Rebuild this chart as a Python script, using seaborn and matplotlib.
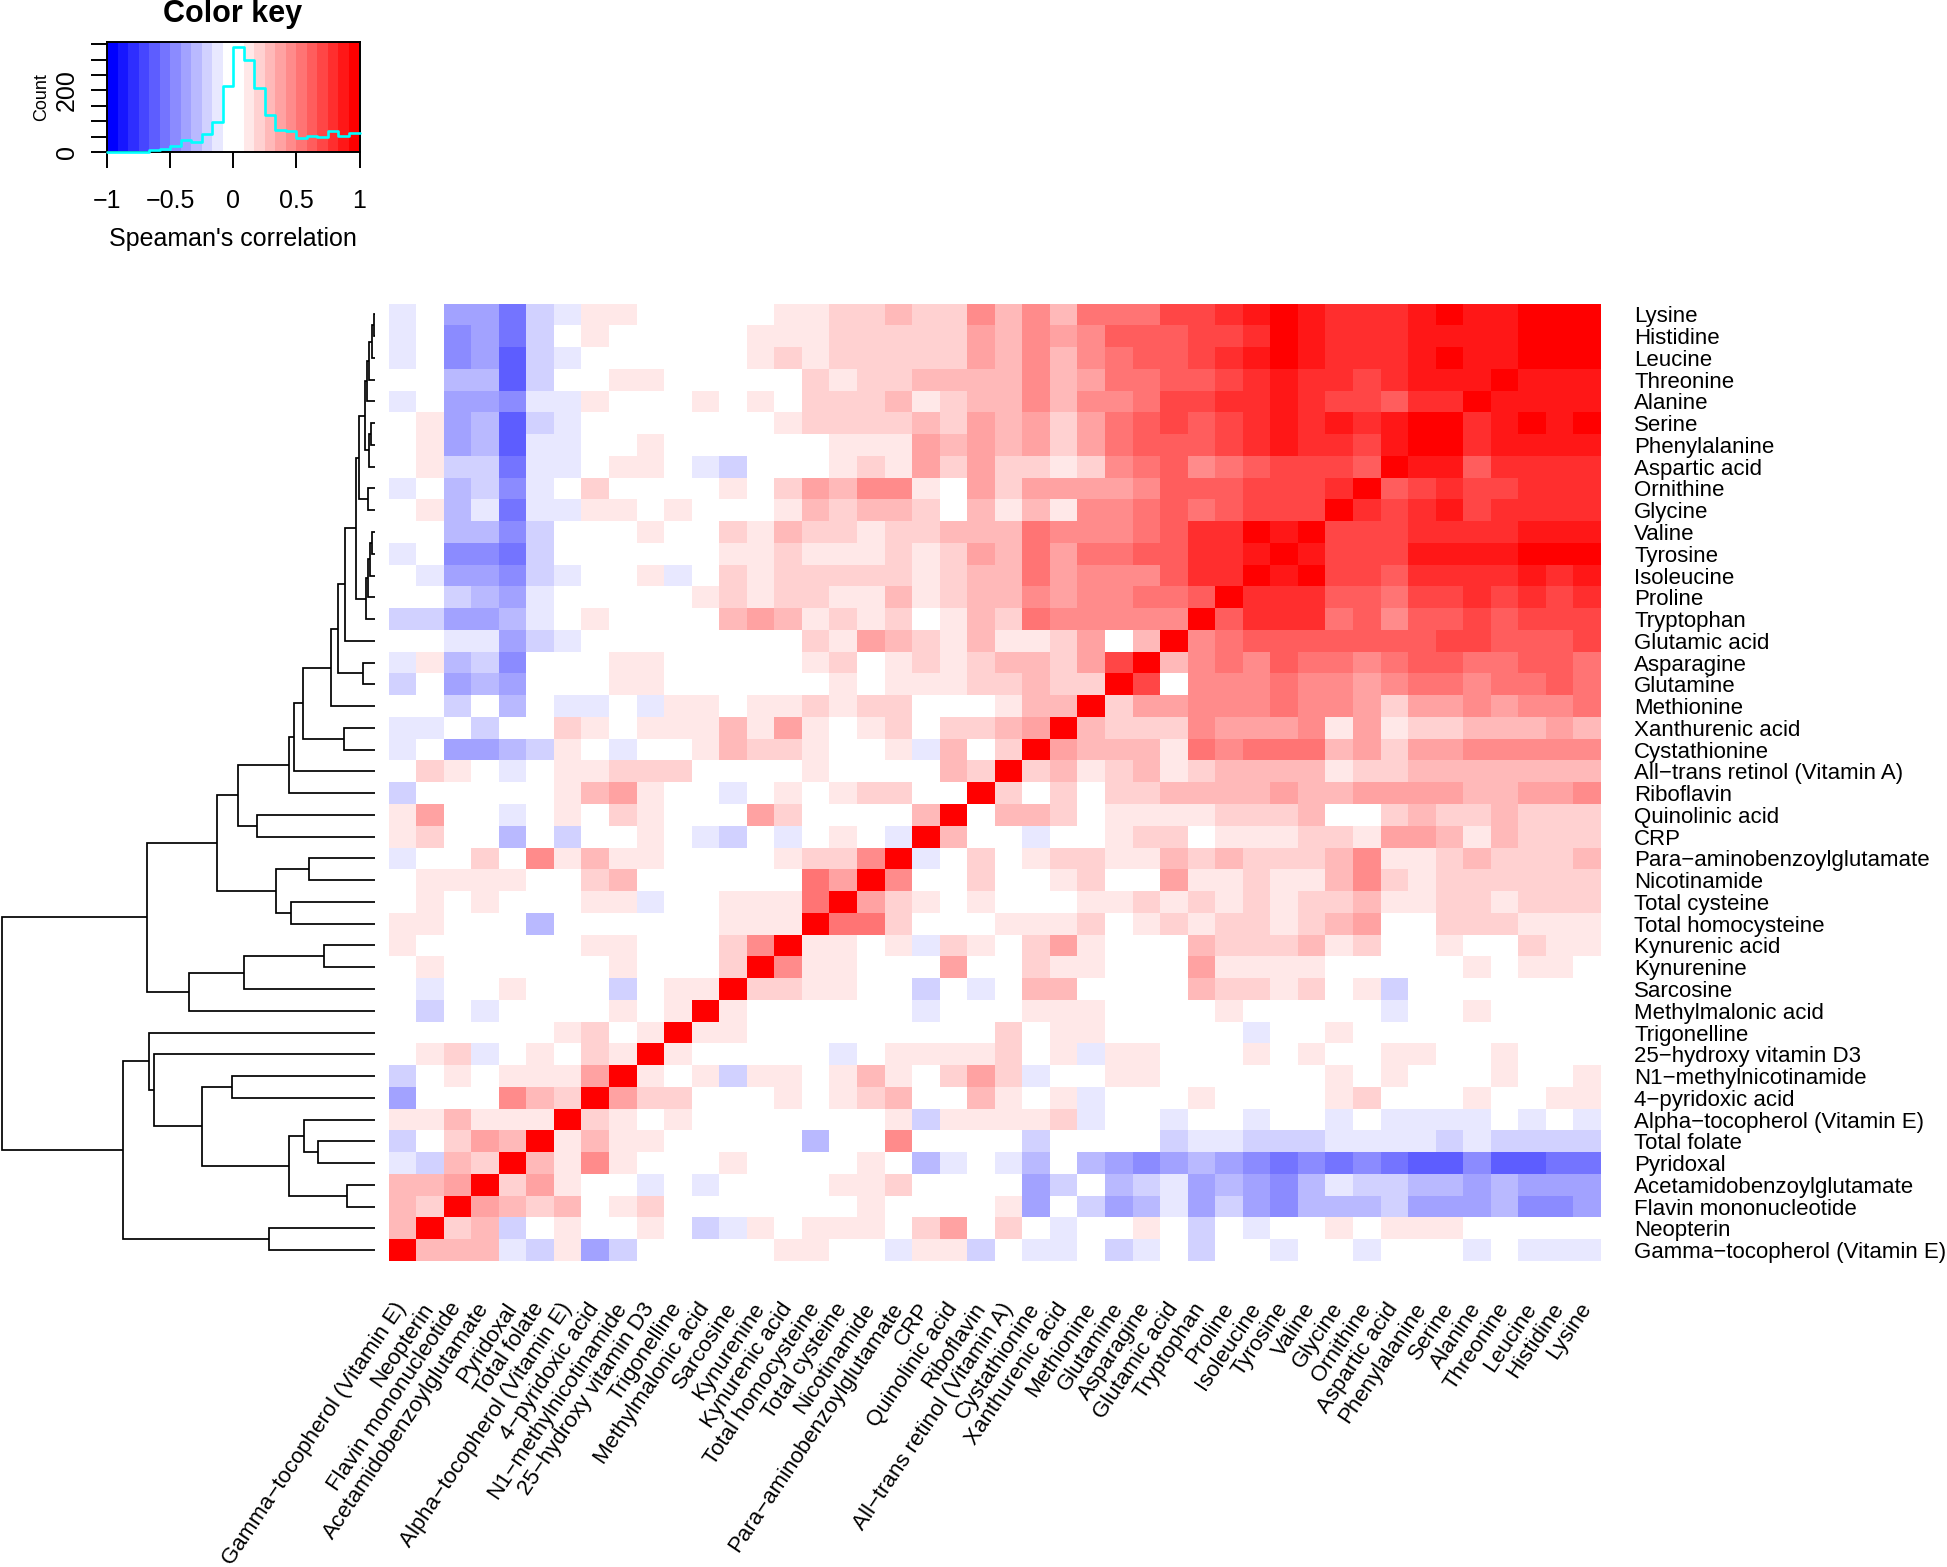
import numpy as np
import pandas as pd
import matplotlib
matplotlib.use("Agg")
import matplotlib.pyplot as plt
from matplotlib.colors import ListedColormap, BoundaryNorm
import seaborn as sns

W, H = 1947, 1567

labels = ["Lysine", "Histidine", "Leucine", "Threonine", "Alanine", "Serine", "Phenylalanine",
          "Aspartic acid", "Ornithine", "Glycine", "Valine", "Tyrosine", "Isoleucine", "Proline",
          "Tryptophan", "Glutamic acid", "Asparagine", "Glutamine", "Methionine", "Xanthurenic acid",
          "Cystathionine", "All\u2212trans retinol (Vitamin A)", "Riboflavin", "Quinolinic acid", "CRP",
          "Para\u2212aminobenzoylglutamate", "Nicotinamide", "Total cysteine", "Total homocysteine",
          "Kynurenic acid", "Kynurenine", "Sarcosine", "Methylmalonic acid", "Trigonelline",
          "25\u2212hydroxy vitamin D3", "N1\u2212methylnicotinamide", "4\u2212pyridoxic acid",
          "Alpha\u2212tocopherol (Vitamin E)", "Total folate", "Pyridoxal", "Acetamidobenzoylglutamate",
          "Flavin mononucleotide", "Neopterin", "Gamma\u2212tocopherol (Vitamin E)"]

# Signed colour-key bin of each pair (0 = the white bins around zero, +/-11 = the darkest bins).
# Each row runs from the left-most column up to just before the diagonal.
r_lysine = [-1,0,-4,-4,-6,-2,-1,1,1,0,0,0,0,0,1,1,2,2,3,2,2,5,3,5,3,6,6,6,8,8,9,10,11,10,9,9,9,10,11,10,10,11,11]
r_histidine = [-1,0,-5,-4,-6,-2,0,1,0,0,0,0,0,1,1,1,2,2,2,2,2,4,3,5,4,5,7,7,7,8,8,9,11,10,9,9,9,10,10,10,10,11]
r_leucine = [-1,0,-5,-4,-7,-2,-1,0,0,0,0,0,0,1,2,1,2,2,2,2,2,4,3,5,3,5,6,7,7,8,9,10,11,10,9,9,9,10,11,10,10]
r_threonine = [0,0,-3,-3,-7,-2,0,0,1,1,0,0,0,0,0,2,1,2,2,3,3,3,3,5,3,4,6,6,7,7,8,9,10,9,9,8,9,10,10,10]
r_alanine = [-1,0,-4,-4,-5,-1,-1,1,0,0,0,1,0,1,0,2,2,2,3,1,2,3,3,5,3,5,5,6,8,8,9,9,10,9,8,8,7,9,9]
r_serine = [0,1,-4,-3,-7,-2,-1,0,0,0,0,0,0,0,1,2,2,2,2,3,2,4,3,4,2,4,6,7,8,7,8,9,10,9,10,9,10,11]
r_phenylalanine = [0,1,-4,-3,-7,-1,-1,0,0,1,0,0,0,0,0,0,1,1,1,4,3,4,3,4,2,4,6,7,7,7,8,9,10,9,9,8,10]
r_aspartic = [0,1,-2,-2,-6,-1,-1,0,1,1,0,-1,-2,0,0,0,1,2,1,4,2,4,2,2,1,2,5,6,7,5,6,7,8,8,8,7]
r_ornithine = [-1,0,-3,-2,-5,-1,0,2,0,0,0,0,1,0,2,4,3,5,5,1,0,4,2,4,4,4,4,5,7,7,7,8,8,8,9]
r_glycine = [0,1,-3,-1,-6,-1,-1,1,1,0,1,0,0,0,1,3,2,3,3,2,0,3,1,3,1,5,5,6,7,6,7,8,8,8]
r_valine = [0,0,-3,-3,-5,-2,0,0,0,1,0,0,2,1,3,2,2,1,2,2,3,3,3,6,5,5,5,6,7,9,9,11,10]
r_tyrosine = [-1,0,-5,-5,-6,-2,0,0,0,0,0,0,1,1,2,1,1,1,2,1,2,4,3,6,4,6,6,7,7,9,9,10]
r_isoleucine = [0,-1,-4,-4,-5,-2,-1,0,0,1,-1,0,2,1,2,2,2,2,2,1,2,3,3,6,4,5,5,5,7,9,9]
r_proline = [0,0,-2,-3,-4,-1,0,0,0,0,0,1,2,1,2,2,1,1,3,1,2,3,3,5,4,5,5,6,6,7]
r_tryptophan = [-2,-2,-4,-4,-3,-1,0,1,0,0,0,0,3,4,3,1,2,1,2,0,1,3,2,6,5,5,5,5,5]
r_glutamic = [0,0,-1,-1,-4,-2,-1,0,0,0,0,0,0,0,0,2,1,4,3,2,1,3,1,1,2,4,0,3]
r_asparagine = [-1,1,-3,-2,-5,0,0,0,1,1,0,0,0,0,0,1,2,0,1,2,1,2,3,3,2,4,8]
r_glutamine = [-2,0,-4,-3,-4,0,0,0,1,1,0,0,0,0,0,0,1,0,1,1,1,2,2,3,2,2]
r_methionine = [0,0,-2,0,-3,0,-1,-1,0,-1,1,1,0,1,1,2,1,2,2,0,0,0,1,3,3]
r_xanthurenic = [-1,-1,0,-2,0,0,2,1,0,1,1,1,3,1,4,1,0,1,2,0,2,2,3,4]
r_cystathionine = [-1,0,-4,-4,-3,-2,1,0,-1,0,0,1,3,2,2,1,0,0,1,-1,3,0,2]
r_retinol = [0,2,1,0,-1,0,1,1,2,2,2,0,0,0,0,1,0,0,0,0,3,2]
r_riboflavin = [-2,0,0,0,0,0,1,3,4,1,0,0,-1,0,1,0,1,2,2,0,0]
r_quinolinic = [1,4,0,0,-1,0,1,0,2,1,0,0,0,4,2,0,0,0,0,3]
r_crp = [1,2,0,0,-3,0,-2,0,0,1,0,-1,-2,0,-1,0,1,0,-1]
r_para = [-1,0,0,2,0,5,1,3,1,1,0,0,0,0,1,2,2,5]
r_nicotinamide = [0,1,1,1,1,0,0,2,3,0,0,0,0,0,0,6,4]
r_cysteine = [0,1,0,1,0,0,0,1,1,-1,0,0,1,1,1,6]
r_homocysteine = [1,1,0,0,0,-3,0,0,0,0,0,0,1,1,1]
r_kynurenic = [1,0,0,0,0,0,0,1,1,0,0,0,2,5]
r_kynurenine = [0,1,0,0,0,0,0,0,1,0,0,0,2]
r_sarcosine = [0,-1,0,0,1,0,0,0,-2,0,1,1]
r_methylmalonic = [0,-2,0,-1,0,0,0,0,1,0,1]
r_trigonelline = [0,0,0,0,0,0,1,2,0,1]
r_vitd3 = [0,1,2,-1,0,1,0,2,1]
r_n1methyl = [-2,0,1,0,1,1,1,4]
r_pyridoxic = [-4,0,0,0,5,3,2]
r_alphatoc = [1,1,3,1,1,1]
r_folate = [-2,0,2,4,3]
r_pyridoxal = [-1,-2,3,2]
r_acetamido = [3,3,4]
r_flavin = [3,2]
r_neopterin = [3]
r_gammatoc = []

tri_rows = [r_lysine, r_histidine, r_leucine, r_threonine, r_alanine, r_serine, r_phenylalanine,
            r_aspartic, r_ornithine, r_glycine, r_valine, r_tyrosine, r_isoleucine, r_proline,
            r_tryptophan, r_glutamic, r_asparagine, r_glutamine, r_methionine, r_xanthurenic,
            r_cystathionine, r_retinol, r_riboflavin, r_quinolinic, r_crp, r_para, r_nicotinamide,
            r_cysteine, r_homocysteine, r_kynurenic, r_kynurenine, r_sarcosine, r_methylmalonic,
            r_trigonelline, r_vitd3, r_n1methyl, r_pyridoxic, r_alphatoc, r_folate, r_pyridoxal,
            r_acetamido, r_flavin, r_neopterin, r_gammatoc]

# Row dendrogram: each merge has a name, two children (row number or earlier merge) and a height
node_name = ["a1","a2","a3","a4","b1","b2","A","c1","B","e1","e2","e3","e4","C","D","f1","E","F","g1","G","Hn","I",
             "j1","J","k1","k2","k3","K","l1","l2","l3","L",
             "n1","o1","o2","p1","p2","q1","q2","q3","r1","S","root"]
node_a = [0,"a1","a2","a3",5,"b1","a4",8,"A",10,"e1","e2","e3","B","C",16,"D","E",19,"F","G","Hn",
          23,"I",25,27,"k1","J",29,"l1","l2","K",
          35,38,37,40,"o2","n1",34,33,42,"q3","L"]
node_b = [1,2,3,4,6,7,"b2",9,"c1",11,12,13,14,"e4",15,17,"f1",18,20,"g1",21,22,
          24,"j1",26,28,"k2","k3",30,31,32,"l3",
          36,39,"o1",41,"p1","p2","q1","q2",43,"r1","S"]
node_h = [.004,.008,.016,.021,.012,.016,.027,.019,.043,.008,.013,.019,.026,.052,.080,.032,.100,.120,.083,.193,.218,.232,
          .317,.368,.178,.227,.267,.425,.138,.351,.500,.612,
          .383,.153,.192,.077,.231,.465,.593,.606,.286,.677,1.0]

# Colour key histogram
hist_counts = [0,0,0,0,8,10,20,38,31,57,96,215,340,299,207,121,72,68,47,52,50,68,53,63]

sns.set_theme(style="white")
plt.rcParams["font.family"] = ["Liberation Sans", "DejaVu Sans"]
plt.rcParams["text.color"] = "black"
plt.rcParams["xtick.labelcolor"] = "black"
plt.rcParams["ytick.labelcolor"] = "black"

def rect(x0, y0, x1, y1):
    return [x0 / W, 1 - y1 / H, (x1 - x0) / W, (y1 - y0) / H]

n = len(labels)
M = np.zeros((n, n))
for r, row in enumerate(tri_rows):
    assert len(row) == n - 1 - r, (r, len(row))
    for c, v in enumerate(row):
        M[r, c] = v
        M[n - 1 - c, n - 1 - r] = v
    M[r, n - 1 - r] = 11
corr = np.sign(M) * (np.abs(M) + 0.5) / 12
corr[M == 0] = 0

bin_edges = np.linspace(-1, 1, 25)
steps = np.arange(12) / 11
neg = [(s, s, 1.0) for s in steps]
pos = [(1.0, 1 - s, 1 - s) for s in steps]
cmap = ListedColormap(neg + pos)
norm = BoundaryNorm(bin_edges, 24)

fig = plt.figure(figsize=(W / 100, H / 100), dpi=100, facecolor="white")

# Heatmap
ax = fig.add_axes(rect(388.5, 303.5, 1601, 1261))
df = pd.DataFrame(corr, index=labels, columns=labels[::-1])
sns.heatmap(df, cmap=cmap, norm=norm, cbar=False, ax=ax, square=False, linewidths=0,
            xticklabels=True, yticklabels=True, rasterized=True)
ax.yaxis.tick_right()
ax.tick_params(axis="both", length=0, labelcolor="black")
ax.tick_params(axis="y", pad=24, labelsize=16, labelrotation=0)
ax.tick_params(axis="x", pad=31.5, labelsize=16)
for t in ax.get_xticklabels():
    t.set_rotation(56)
    t.set_ha("right")
    t.set_va("center")
    t.set_rotation_mode("anchor")
for t in ax.get_yticklabels():
    t.set_ha("left")
    t.set_va("center_baseline")
ax.set_xlabel("")
ax.set_ylabel("")

# Row dendrogram
ad = fig.add_axes(rect(2, 303.5, 375.3, 1261))
ad.set_xlim(1.0, 0.0)
ad.set_ylim(n, 0)
ad.axis("off")
pos_y = {i: i + 0.5 for i in range(n)}
height = {i: 0.0 for i in range(n)}
for name, a, b, h in zip(node_name, node_a, node_b, node_h):
    ya, yb = pos_y[a], pos_y[b]
    ad.plot([height[a], h, h, height[b]], [ya, ya, yb, yb], color="black", lw=1.25,
            solid_joinstyle="miter", solid_capstyle="butt", clip_on=False)
    pos_y[name] = (ya + yb) / 2
    height[name] = h

# Colour key
ak = fig.add_axes(rect(107, 42, 359.5, 152))
key = np.array([(bin_edges[:-1] + bin_edges[1:]) / 2])
ak.pcolormesh(bin_edges, [0, 357], key, cmap=cmap, norm=norm)
ak.set_xlim(-1, 1)
ak.set_ylim(0, 357)
ak.set_xticks([-1, -0.5, 0, 0.5, 1], ["\u22121", "\u22120.5", "0", "0.5", "1"])
ak.set_yticks(np.arange(0, 351, 50), ["0", "", "", "", "200", "", "", ""])
ak.tick_params(axis="both", length=11.5, width=1.4, color="black", labelcolor="black", labelsize=18, left=True, bottom=True)
ak.tick_params(axis="x", pad=15.5)
ak.tick_params(axis="y", pad=9)
for t in ak.get_yticklabels():
    t.set_rotation(90)
    t.set_va("center")
for s in ak.spines.values():
    s.set_visible(True)
    s.set_color("black")
    s.set_linewidth(1.4)
ak.step(bin_edges, hist_counts + hist_counts[-1:], where="post", color="cyan", lw=1.9, clip_on=False, zorder=5)
fig.text(233 / W, 1 - 14 / H, "Color key", ha="center", va="center", fontsize=22, fontweight="bold", color="black")
fig.text(233 / W, 1 - 239 / H, "Speaman's correlation", ha="center", va="center", fontsize=18, color="black")
fig.text(42 / W, 1 - 97 / H, "Count", ha="center", va="center", rotation=90, fontsize=13, color="black")

fig.savefig("out.png", dpi=100, facecolor="white")
